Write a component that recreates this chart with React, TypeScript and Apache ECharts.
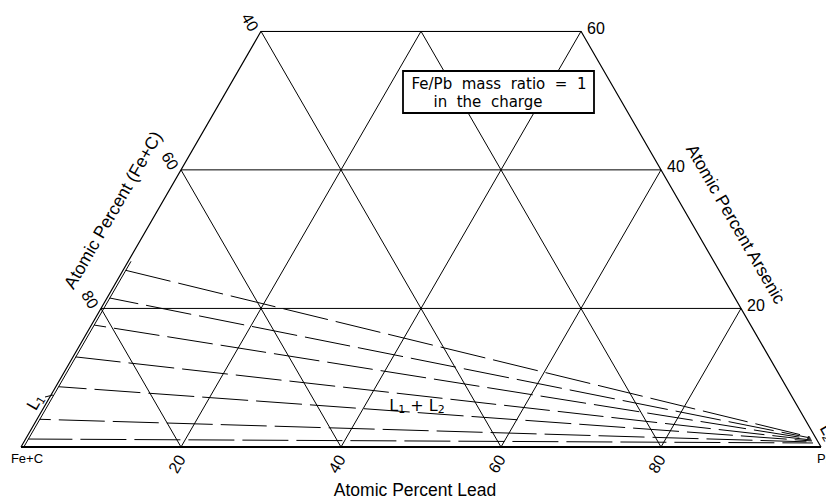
import React, { useEffect, useRef } from "react";
import * as echarts from "echarts";

const SIN60 = Math.sin(Math.PI / 3);

// Ternary axis definitions (atomic percent)
const leadTicks = [20, 40, 60, 80];
const leadTickLabels = ["20", "40", "60", "80"];
const arsenicLevels = [20, 40];
const arsenicMax = 60;
const feLevels = [20, 40, 60, 80];
const leftEdgeTickAs = [20, 40, 60];
const leftEdgeTickLabels = ["80", "60", "40"];
const rightEdgeTickAs = [20, 40, 60];
const rightEdgeTickLabels = ["20", "40", "60"];

// L1 region boundary (thin band along the Fe+C – As edge)
const l1BoundaryPb = 0.35;
const l1BoundaryTopAs = 26.8;

// Tie lines L1 -> L2 (start on L1 boundary, end near Pb corner)
const tieStartAs = [25.5, 21.5, 17.6, 13.0, 8.7, 4.0, 1.15];
const tieEndPb = [97.9, 98.04, 98.17, 98.31, 98.44, 98.58, 98.71];
const tieEndAs = [1.44, 1.3, 1.15, 1.01, 0.87, 0.72, 0.58];

const toXY = (pb: number, as: number): [number, number] => [pb + as / 2, as * SIN60];

const SANS = '"Liberation Sans", Arial, sans-serif';
const CAD = '"DejaVu Sans", sans-serif';

function lineSeries(points: [number, number][], width = 1, type: any = "solid", dashOffset = 0) {
  return {
    type: "line",
    data: points.map(([p, a]) => toXY(p, a)),
    symbol: "none",
    silent: true,
    z: 2,
    lineStyle: { color: "#000", width, type, dashOffset },
  };
}

export default function App() {
  const ref = useRef<HTMLDivElement>(null);
  useEffect(() => {
    if (!ref.current) return;
    const chart = echarts.init(ref.current, null, { renderer: "svg" });
    const series: any[] = [];
    // outline
    series.push(lineSeries([[0, 0], [100, 0]], 2));
    series.push(lineSeries([[0, 0], [0, arsenicMax], [100 - arsenicMax, arsenicMax], [100, 0]], 1.2));
    // arsenic levels
    arsenicLevels.forEach((a) => series.push(lineSeries([[0, a], [100 - a, a]])));
    // lead levels
    leadTicks.forEach((p) => series.push(lineSeries([[p, 0], [p, Math.min(arsenicMax, 100 - p)]])));
    // Fe+C levels
    feLevels.forEach((f) => {
      const top = Math.min(arsenicMax, 100 - f);
      series.push(lineSeries([[100 - f, 0], [100 - f - top, top]]));
    });
    // L1 boundary
    series.push(lineSeries([[l1BoundaryPb, 0], [l1BoundaryPb, l1BoundaryTopAs]], 1));
    // tie lines
    tieStartAs.forEach((a, i) => {
      series.push(lineSeries([[l1BoundaryPb, a], [tieEndPb[i], tieEndAs[i]]], 1, [46, 8], (i * 17) % 50));
    });

    chart.setOption({
      animation: false,
      backgroundColor: "#fff",
      grid: { left: 21, top: 447 - arsenicMax * SIN60 * 8, width: 800, height: arsenicMax * SIN60 * 8 },
      xAxis: { type: "value", min: 0, max: 100, show: false },
      yAxis: { type: "value", min: 0, max: arsenicMax * SIN60, show: false },
      series,
    });

    const px = (pb: number, as: number) => chart.convertToPixel({ gridIndex: 0 }, toXY(pb, as)) as number[];
    const txt = (text: string, x: number, y: number, size: number, rotation = 0, align = "center", family = SANS, rich?: any) => ({
      type: "text",
      x,
      y,
      rotation,
      z: 100,
      style: {
        text,
        fill: "#000",
        font: `${size}px ${family}`,
        fontSize: size,
        fontFamily: family,
        align,
        textAlign: align,
        verticalAlign: "middle",
        textVerticalAlign: "middle",
        rich,
      },
    });
    const graphic: any[] = [];
    leadTicks.forEach((p, i) => {
      const [x, y] = px(p, 0);
      graphic.push(txt(leadTickLabels[i], x - 4, y + 17, 16, Math.PI / 3));
    });
    leftEdgeTickAs.forEach((a, i) => {
      const [x, y] = px(0, a);
      graphic.push(txt(leftEdgeTickLabels[i], x - 11, y - 9, 16, -Math.PI / 3));
    });
    rightEdgeTickAs.forEach((a, i) => {
      const [x, y] = px(100 - a, a);
      graphic.push(txt(rightEdgeTickLabels[i], x + 6, y - 3, 16, 0, "left"));
    });
    graphic.push(txt("Atomic Percent Lead", 415, 490, 17.5));
    graphic.push(txt("Atomic Percent (Fe+C)", 113, 210, 17.5, Math.PI / 3));
    graphic.push(txt("Atomic Percent Arsenic", 736, 224, 17.5, -Math.PI / 3));
    const [fx, fy] = px(0, 0);
    graphic.push(txt("Fe+C", fx + 6, fy + 11, 13));
    const [bx, by] = px(100, 0);
    graphic.push(txt("Pb", bx - 4, by + 11, 13, 0, "left"));
    const subRich = {
      a: { fontSize: 16, fontFamily: CAD, lineHeight: 20, verticalAlign: "middle" },
      b: { fontSize: 11, fontFamily: CAD, lineHeight: 20, verticalAlign: "bottom" },
    };
    graphic.push(txt("{a|L}{b|1}{a| + L}{b|2}", 417, 405, 16, 0, "center", CAD, subRich));
    graphic.push(txt("{a|L}{b|1}", 35, 402, 16, Math.PI / 3, "center", CAD, subRich));
    graphic.push(txt("{a|L}{b|2}", 828, 432, 16, -Math.PI / 3, "center", CAD, subRich));
    graphic.push({ type: "line", z: 100, shape: { x1: 45, y1: 397, x2: 53, y2: 395 }, style: { stroke: "#000", lineWidth: 1 } });
    graphic.push({
      type: "rect",
      z: 99,
      shape: { x: 403, y: 71, width: 191, height: 42 },
      style: { fill: "#fff", stroke: "#000", lineWidth: 1.8 },
    });
    graphic.push(txt("Fe/Pb  mass  ratio  =  1", 499, 83.5, 15, 0, "center", CAD));
    graphic.push(txt("in  the  charge", 488, 102, 15, 0, "center", CAD));
    chart.setOption({ graphic });

    return () => chart.dispose();
  }, []);
  return <div ref={ref} style={{ position: "absolute", left: 0, top: 0, width: 826, height: 500 }} />;
}
